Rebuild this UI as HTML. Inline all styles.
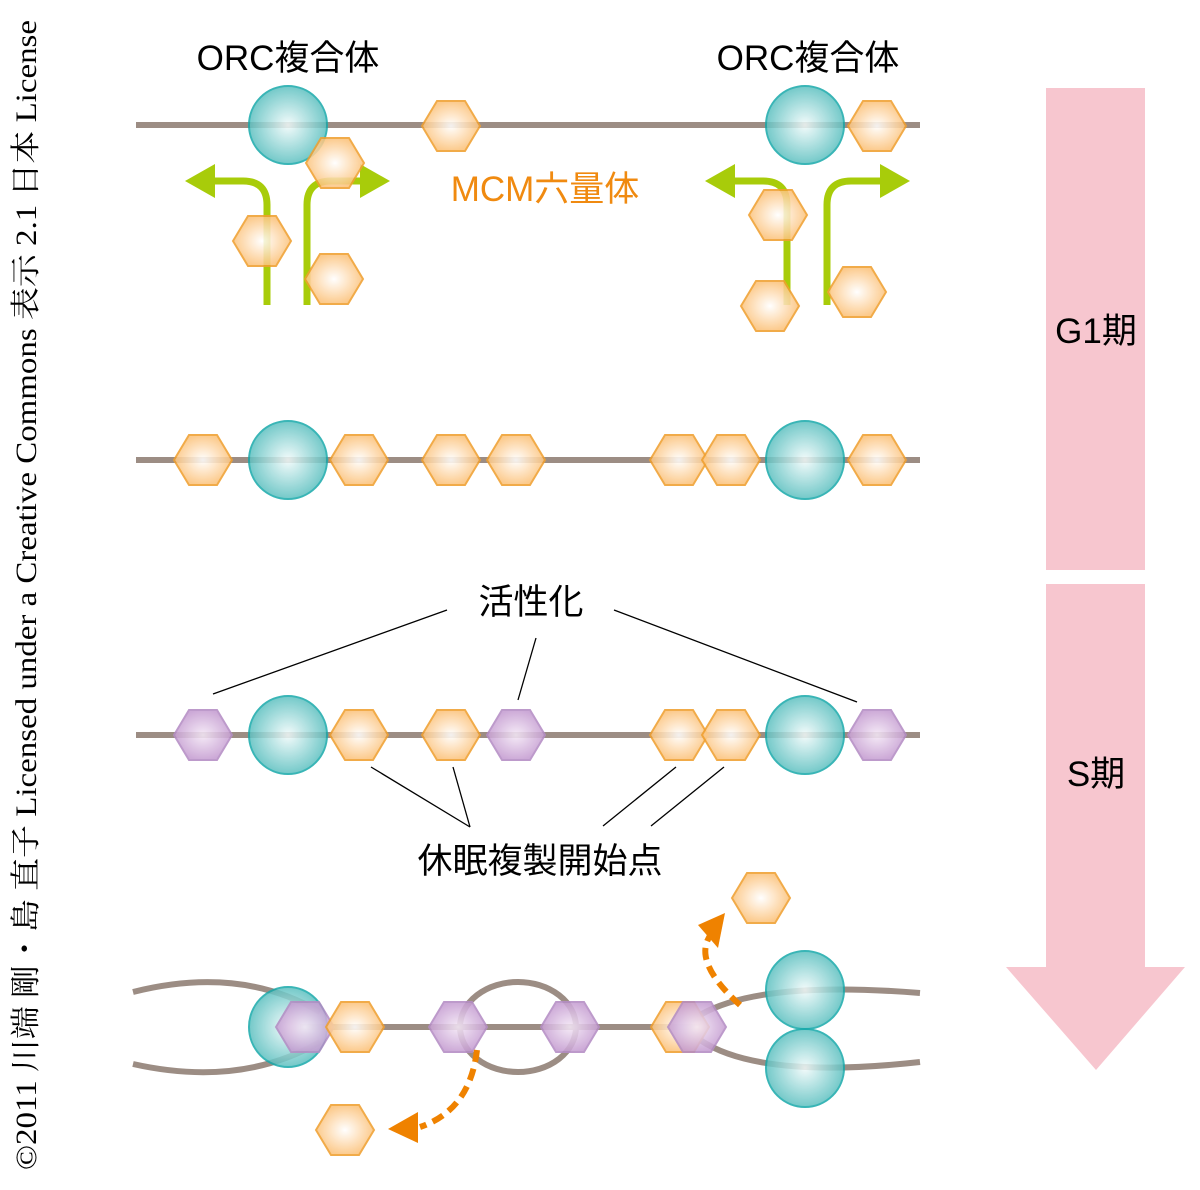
<!DOCTYPE html>
<html><head><meta charset="utf-8"><style>body{margin:0;background:#fff}svg{display:block}</style></head><body>
<svg width="1200" height="1190" viewBox="0 0 1200 1190" xmlns="http://www.w3.org/2000/svg">
<defs>
<radialGradient id="go"><stop offset="0" stop-color="#fff"/><stop offset="1" stop-color="#fcc37c"/></radialGradient>
<radialGradient id="gc"><stop offset="0" stop-color="#f2fbfb"/><stop offset="1" stop-color="#5cc0c0"/></radialGradient>
<radialGradient id="gp"><stop offset="0" stop-color="#f4e8f6"/><stop offset="1" stop-color="#c69ed2"/></radialGradient>
<polygon id="h" points="-29,0 -14,-25 14,-25 29,0 14,25 -14,25"/>
</defs>
<style>
.o{fill:url(#go);stroke:#f0a030;stroke-width:2;opacity:.88}
.p{fill:url(#gp);stroke:#b48dc4;stroke-width:2;opacity:.88}
.c{fill:url(#gc);stroke:#17a9aa;stroke-width:2;opacity:.85}
.d{stroke:#9c8d84;stroke-width:6;fill:none}
.g{stroke:#a8cc0a;stroke-width:7;fill:none}
.t{font-family:"Liberation Sans","Noto Sans CJK JP",sans-serif;font-size:35px;text-anchor:middle}
.k{stroke:#000;stroke-width:1.3}
</style>
<rect x="1046" y="88" width="99" height="482" fill="#f7c6cf"/>
<rect x="1046" y="584" width="99" height="383" fill="#f7c6cf"/>
<polygon points="1006,967 1185,967 1096,1070" fill="#f7c6cf"/>
<text class="t" x="1096" y="343">G1期</text>
<text class="t" x="1096" y="786">S期</text>
<text transform="translate(36,1170) rotate(-90)" font-family="'Liberation Serif','Noto Serif CJK SC',serif" font-size="30" textLength="1150" lengthAdjust="spacingAndGlyphs">©2011 川端 剛・島 直子 Licensed under a Creative Commons 表示 2.1 日本 License</text>
<text class="t" x="288" y="70">ORC複合体</text>
<text class="t" x="808" y="70">ORC複合体</text>
<text class="t" x="545" y="201" fill="#f08a10" font-size="33">MCM六量体</text>
<line class="d" x1="136" y1="125" x2="920" y2="125"/>
<path class="g" d="M267,305 V205 Q267,181 243,181 H210"/>
<polygon points="185,181 215,164 215,198" fill="#a8cc0a"/>
<path class="g" d="M307,305 V205 Q307,181 331,181 H365"/>
<polygon points="390,181 360,164 360,198" fill="#a8cc0a"/>
<path class="g" d="M787,305 V205 Q787,181 763,181 H730"/>
<polygon points="705,181 735,164 735,198" fill="#a8cc0a"/>
<path class="g" d="M827,305 V205 Q827,181 851,181 H885"/>
<polygon points="910,181 880,164 880,198" fill="#a8cc0a"/>
<circle class="c" cx="288" cy="125" r="39"/>
<circle class="c" cx="805" cy="125" r="39"/>
<use href="#h" class="o" x="335" y="163"/>
<use href="#h" class="o" x="451" y="126"/>
<use href="#h" class="o" x="877" y="126"/>
<use href="#h" class="o" x="262" y="241"/>
<use href="#h" class="o" x="334" y="279"/>
<use href="#h" class="o" x="778" y="215"/>
<use href="#h" class="o" x="770" y="306"/>
<use href="#h" class="o" x="857" y="292"/>
<line class="d" x1="136" y1="460" x2="920" y2="460"/>
<circle class="c" cx="288" cy="460" r="39"/>
<circle class="c" cx="805" cy="460" r="39"/>
<use href="#h" class="o" x="203" y="460"/>
<use href="#h" class="o" x="359" y="460"/>
<use href="#h" class="o" x="451" y="460"/>
<use href="#h" class="o" x="516" y="460"/>
<use href="#h" class="o" x="679" y="460"/>
<use href="#h" class="o" x="731" y="460"/>
<use href="#h" class="o" x="877" y="460"/>
<text class="t" x="531" y="614">活性化</text>
<line class="k" x1="447" y1="610" x2="213" y2="694"/>
<line class="k" x1="536" y1="638" x2="518" y2="700"/>
<line class="k" x1="614" y1="610" x2="857" y2="702"/>
<line class="k" x1="371" y1="767" x2="470" y2="827"/>
<line class="k" x1="453" y1="767" x2="470" y2="827"/>
<line class="k" x1="676" y1="767" x2="603" y2="826"/>
<line class="k" x1="724" y1="767" x2="651" y2="826"/>
<text class="t" x="540" y="873">休眠複製開始点</text>
<line class="d" x1="136" y1="735" x2="920" y2="735"/>
<circle class="c" cx="288" cy="735" r="39"/>
<circle class="c" cx="805" cy="735" r="39"/>
<use href="#h" class="p" x="203" y="735"/>
<use href="#h" class="o" x="359" y="735"/>
<use href="#h" class="o" x="451" y="735"/>
<use href="#h" class="p" x="516" y="735"/>
<use href="#h" class="o" x="679" y="735"/>
<use href="#h" class="o" x="731" y="735"/>
<use href="#h" class="p" x="877" y="735"/>
<path class="d" d="M133,992 Q240,965 320,1012"/>
<path class="d" d="M133,1064 Q240,1088 320,1042"/>
<line class="d" x1="300" y1="1027" x2="700" y2="1027"/>
<ellipse class="d" cx="518" cy="1027" rx="58" ry="45"/>
<path class="d" d="M700,1015 Q760,980 920,993"/>
<path class="d" d="M700,1040 Q760,1080 920,1062"/>
<ellipse class="c" cx="288" cy="1027" rx="39" ry="40"/>
<ellipse class="c" cx="805" cy="990" rx="39" ry="39"/>
<ellipse class="c" cx="805" cy="1068" rx="39" ry="39"/>
<use href="#h" class="p" x="305" y="1027"/>
<use href="#h" class="o" x="355" y="1027"/>
<use href="#h" class="p" x="458" y="1027"/>
<use href="#h" class="p" x="570" y="1027"/>
<use href="#h" class="o" x="680" y="1027"/>
<use href="#h" class="p" x="697" y="1027"/>
<use href="#h" class="o" x="761" y="898"/>
<use href="#h" class="o" x="345" y="1130"/>
<path d="M477,1050 Q470,1110 420,1127" stroke="#ef8200" stroke-width="6" fill="none" stroke-dasharray="12,7"/>
<polygon points="388,1129 418,1112 418,1143" fill="#ef8200"/>
<path d="M740,1005 Q690,960 712,933" stroke="#ef8200" stroke-width="6" fill="none" stroke-dasharray="12,7"/>
<polygon points="725,913 698,925 718,948" fill="#ef8200"/>
</svg>
</body></html>
